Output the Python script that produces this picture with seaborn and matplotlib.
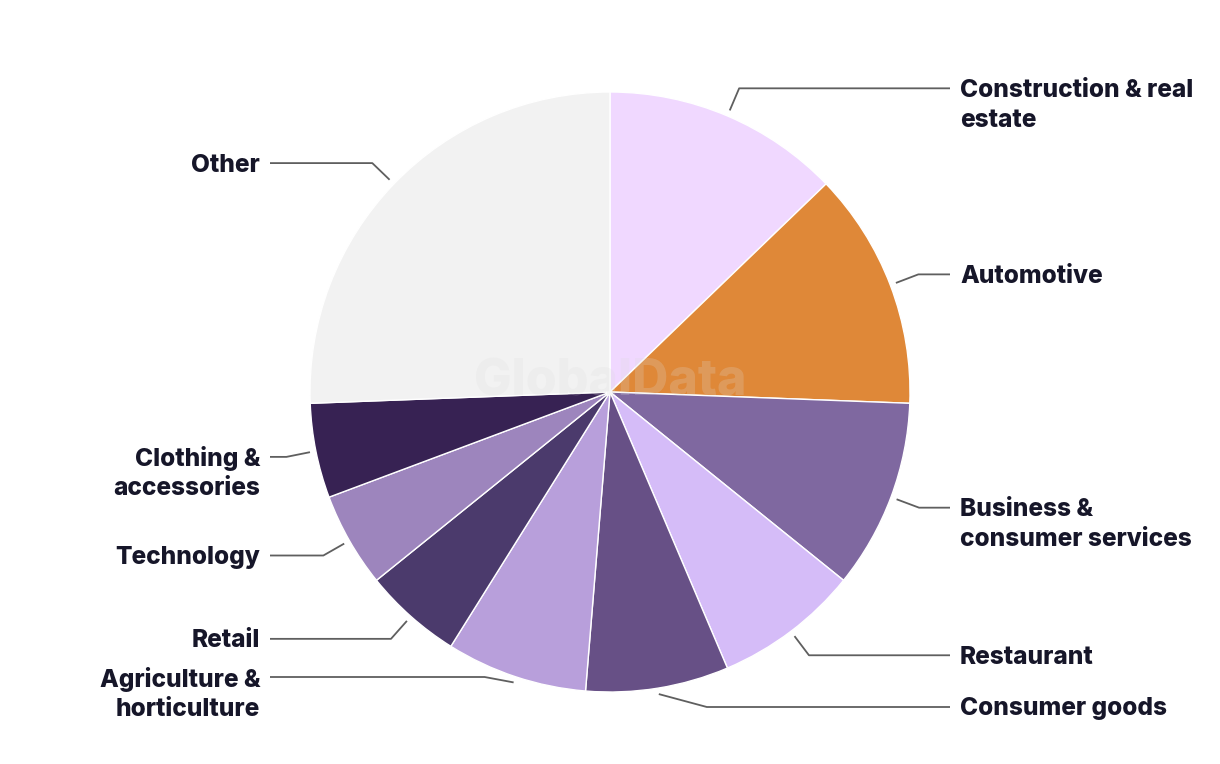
import numpy as np
import matplotlib
matplotlib.use("Agg")
import matplotlib.pyplot as plt
import seaborn as sns

categories = ["Construction & real\nestate", "Automotive", "Business &\nconsumer services",
              "Restaurant", "Consumer goods", "Agriculture &\nhorticulture", "Retail",
              "Technology", "Clothing &\naccessories", "Other"]
values = [12.8, 12.8, 10.2, 7.8, 7.7, 7.6, 5.3, 5.1, 5.1, 25.6]
colors = ["#f0d8ff", "#df8838", "#7f68a0", "#d5bcf8", "#675086", "#b89fdb",
          "#4b3a6c", "#9d85bd", "#372253", "#f2f2f2"]

sns.set_theme(style="white")
plt.rcParams["font.family"] = ["Inter", "DejaVu Sans"]

W, H = 1220, 764
fig = plt.figure(figsize=(W / 100, H / 100), dpi=100)
ax = fig.add_axes([0, 0, 1, 1])

cx, cy, R = 610, H - 392, 300
wedges, _ = ax.pie(values, colors=colors, startangle=90, counterclock=False,
                   center=(cx, cy), radius=R,
                   wedgeprops=dict(edgecolor="white", linewidth=1.0))
ax.set_xlim(0, W)
ax.set_ylim(0, H)
ax.set_aspect("equal")
ax.axis("off")

# watermark
ax.text(cx, H - 382, "GlobalData", ha="center", va="center", fontsize=36,
        fontweight="heavy", color="#dcdcdc", alpha=0.22, zorder=5)

# label y overrides (collision avoidance, in image pixels from top)
overrides = {4: (707, 48), 5: (677, -29)}
text_color = "#161629"
line_color = "#5f5f5f"
total = sum(values)
cum = 0
for i, (lab, v) in enumerate(zip(categories, values)):
    mid = (cum + v / 2) / total * 360.0
    cum += v
    th = np.deg2rad(mid)
    sx, sy = cx + 306 * np.sin(th), cy + 306 * np.cos(th)
    right = np.sin(th) > 0
    if i in overrides:
        ly_img, dx = overrides[i]
        ey = H - ly_img
        ex = sx + dx
    else:
        ex, ey = cx + 330 * np.sin(th), cy + 330 * np.cos(th)
    endx = 950 if right else 270
    ax.plot([sx, ex, endx], [sy, ey, ey], color=line_color, lw=1.3,
            solid_capstyle="butt", zorder=6)
    tx = 960 if right else 260
    for j, line in enumerate(lab.split("\n")):
        ax.text(tx, ey - 2 - j * 30, line, ha="left" if right else "right",
                va="center", fontsize=17.6, fontweight="heavy", color=text_color)

fig.savefig("out.png", dpi=100, facecolor="white")
